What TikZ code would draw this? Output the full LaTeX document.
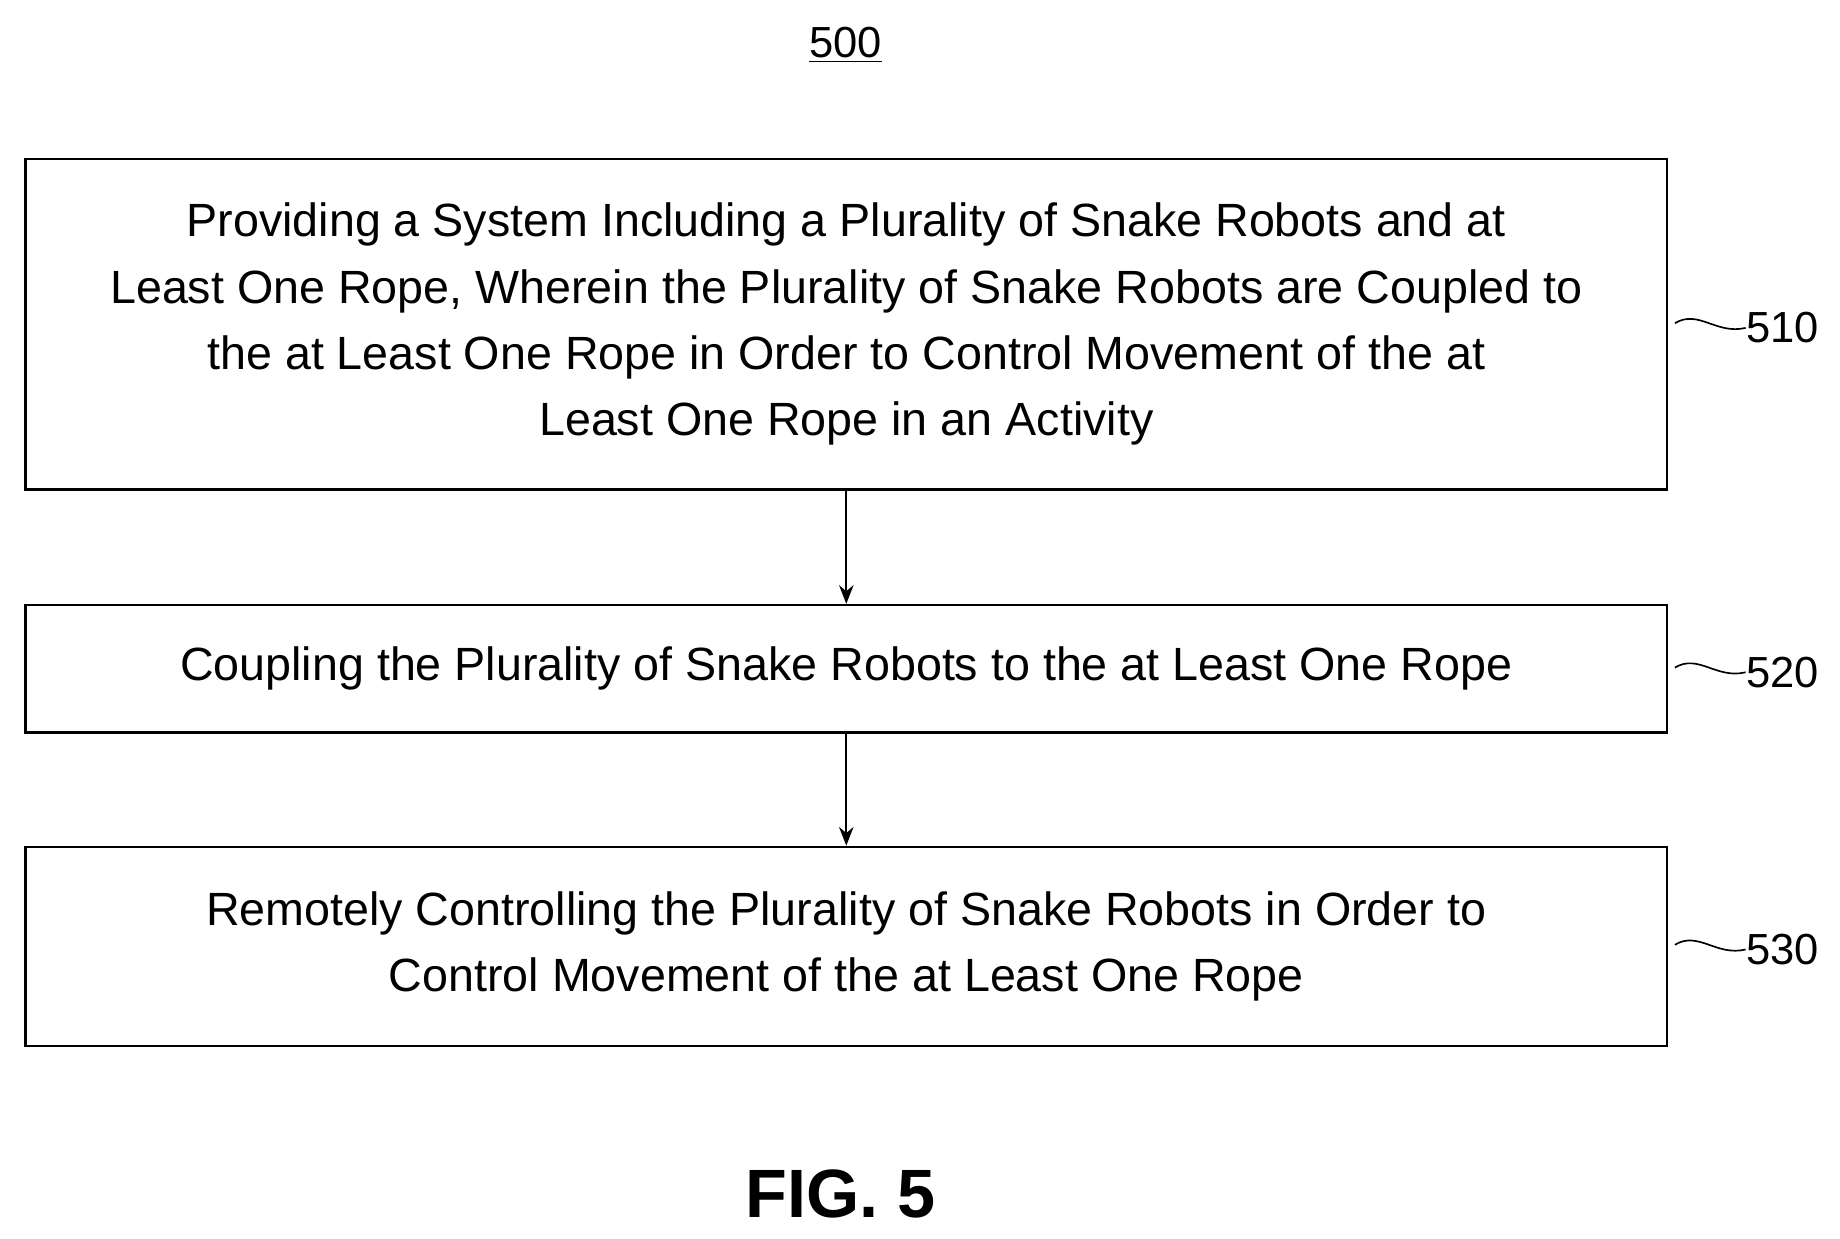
\documentclass[tikz,border=0pt]{standalone}
\usepackage{fontspec}
\setmainfont{Liberation Sans}
\usetikzlibrary{arrows.meta,positioning,calc}

\tikzset{
  stepbox/.style={draw, line width=1.2pt, minimum width=1392*0.02cm, align=center, inner sep=0pt,
    font=\fontsize{22.5}{32}\selectfont},
  reflabel/.style={anchor=west, inner sep=0pt, font=\fontsize{21}{25}\selectfont},
  flow/.style={-{Stealth[length=9pt,width=7pt]}, line width=0.8pt},
  lead/.style={line width=0.8pt}
}

\begin{document}
\begin{tikzpicture}[x=0.02cm,y=-0.02cm]
\useasboundingbox (0,0) rectangle (1560,1050);

% title
\node (title) at (717,38) {\fontsize{21}{25}\selectfont\underline{500}};

% steps
\node[stepbox, minimum height=280*0.02cm] (s510) at (717.5,275)
  {Providing a System Including a Plurality of Snake Robots and at\\
   Least One Rope, Wherein the Plurality of Snake Robots are Coupled to\\
   the at Least One Rope in Order to Control Movement of the at\\
   Least One Rope in an Activity};
\node[stepbox, minimum height=108*0.02cm] (s520) at (717.5,567)
  {Coupling the Plurality of Snake Robots to the at Least One Rope};
\node[stepbox, minimum height=169*0.02cm] (s530) at (717.5,802.5)
  {Remotely Controlling the Plurality of Snake Robots in Order to\\
   Control Movement of the at Least One Rope};

\draw[flow] (s510) -- (s520);
\draw[flow] (s520) -- (s530);

% reference numerals
\foreach \n/\yy in {510/278, 520/570, 530/805}{
  \coordinate (a\n) at (1420,\yy-4);
  \node[reflabel] (l\n) at (1480,\yy) {\n};
  \draw[lead] (a\n) .. controls (1440,\yy-16) and (1455,\yy+6) .. (l\n.west);
}

\node[font=\bfseries\fontsize{33}{38}\selectfont] (fig) at (713,1012) {FIG. 5};
\end{tikzpicture}
\end{document}
